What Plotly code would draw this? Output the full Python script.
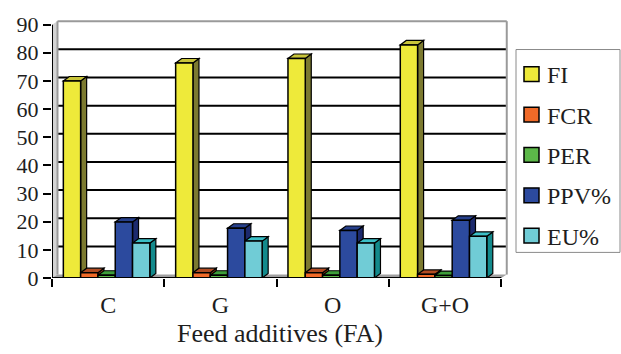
import plotly.graph_objects as go

# Feed additive treatments and measured responses
categories = ["C", "G", "O", "G+O"]
series_names = ["FI", "FCR", "PER", "PPV%", "EU%"]
fi = [70.0, 76.4, 78.0, 82.8]
fcr = [1.9, 1.9, 1.9, 1.3]
per = [1.0, 1.0, 1.0, 0.9]
ppv = [19.9, 17.7, 16.9, 20.5]
eu = [12.4, 13.1, 12.4, 14.8]
y_ticks = list(range(0, 100, 10))

series_values = [fi, fcr, per, ppv, eu]

# face colours: front, right side, top
front_colors = ["#EEEA3A", "#F06A28", "#5CB849", "#2C4A9E", "#70CCD6"]
side_colors = ["#7C7A30", "#8E3A14", "#2F7A2A", "#1C2A6E", "#138A8C"]
top_colors = ["#C8C43A", "#B24C22", "#3E9E3A", "#27408C", "#3BBFC6"]

W, H = 621, 354
ML, MR, MT, MB = 52, 113, 17, 74
PLOT_W, PLOT_H = W - ML - MR, H - MT - MB
X_RANGE = [-0.5, 3.56]
Y_RANGE = [0, 92]
px_per_x = PLOT_W / (X_RANGE[1] - X_RANGE[0])
px_per_y = PLOT_H / (Y_RANGE[1] - Y_RANGE[0])


def paper_x(px):
    return (px - ML) / PLOT_W


def paper_y(py):
    return (H - MB - py) / PLOT_H


# bar layout inside each category slot
pitch = 17.3 / px_per_x
group_start = -0.399
# depth of bars and of the chart walls (pixels converted to data units)
bdx, bdy = 6.0 / px_per_x, 4.5 / px_per_y
wdx, wdy = 5.5 / px_per_x, 3.5 / px_per_y

x_pos = list(range(len(categories)))
FONT = "Liberation Serif, Times New Roman, serif"
TXT = "#1e1e1e"

fig = go.Figure()
for i, (name, vals) in enumerate(zip(series_names, series_values)):
    fig.add_trace(go.Bar(
        x=x_pos, y=vals, name=name, showlegend=False,
        width=pitch, offset=group_start + i * pitch,
        marker=dict(color=front_colors[i], line=dict(color="black", width=1.5)),
        hoverinfo="name+y",
    ))

shapes = []
annotations = []
x_lo, x_hi = -0.5, 3.5
y_top = y_ticks[-1]
# left side wall
shapes.append(dict(type="path", xref="x", yref="y", layer="below",
                   path=f"M{x_lo},0 L{x_lo + wdx},{wdy} L{x_lo + wdx},{y_top + wdy} L{x_lo},{y_top} Z",
                   fillcolor="#d4d4d4", line=dict(width=0)))
# floor
shapes.append(dict(type="path", xref="x", yref="y", layer="below",
                   path=f"M{x_lo},0 L{x_hi},0 L{x_hi + wdx},{wdy} L{x_lo + wdx},{wdy} Z",
                   fillcolor="#a0a0a0", line=dict(width=0)))
# back wall gridlines
for v in y_ticks[1:-1]:
    shapes.append(dict(type="line", xref="x", yref="y", layer="below",
                       x0=x_lo + wdx, x1=x_hi + wdx, y0=v + wdy, y1=v + wdy,
                       line=dict(color="black", width=2)))
# back wall border
for (xa, ya, xb, yb) in [
    (x_lo + wdx, wdy, x_lo + wdx, y_top + wdy),
    (x_lo + wdx, y_top + wdy, x_hi + wdx, y_top + wdy),
    (x_hi + wdx, wdy, x_hi + wdx, y_top + wdy),
]:
    shapes.append(dict(type="line", xref="x", yref="y", layer="below",
                       x0=xa, y0=ya, x1=xb, y1=yb,
                       line=dict(color="#9a9a9a", width=2)))

# side and top faces of every bar, left to right
for c in x_pos:
    for i, vals in enumerate(series_values):
        x0 = c + group_start + i * pitch
        x1 = x0 + pitch
        h = vals[c]
        shapes.append(dict(type="path", xref="x", yref="y", layer="below",
                           path=f"M{x1},0 L{x1 + bdx},{bdy} L{x1 + bdx},{h + bdy} L{x1},{h} Z",
                           fillcolor=side_colors[i], line=dict(color="black", width=1.2)))
        shapes.append(dict(type="path", xref="x", yref="y", layer="below",
                           path=f"M{x0},{h} L{x1},{h} L{x1 + bdx},{h + bdy} L{x0 + bdx},{h + bdy} Z",
                           fillcolor=top_colors[i], line=dict(color="black", width=1.2)))

# front axis lines
shapes.append(dict(type="line", xref="x", yref="y", layer="above",
                   x0=x_lo, x1=x_hi, y0=0, y1=0, line=dict(color="black", width=2)))
shapes.append(dict(type="line", xref="x", yref="y", layer="above",
                   x0=x_lo, x1=x_lo, y0=0, y1=y_top, line=dict(color="black", width=2)))

# legend box with a swatch and label per series
shapes.append(dict(type="rect", xref="paper", yref="paper", layer="above",
                   x0=paper_x(516), x1=paper_x(620), y0=paper_y(254), y1=paper_y(48),
                   fillcolor="white", line=dict(color="#8a8a8a", width=1)))
for i, name in enumerate(series_names):
    cy = 73 + i * 41
    shapes.append(dict(type="rect", xref="paper", yref="paper", layer="above",
                       x0=paper_x(524), x1=paper_x(539), y0=paper_y(cy + 7.5), y1=paper_y(cy - 7.5),
                       fillcolor=front_colors[i], line=dict(color="black", width=1.5)))
    annotations.append(dict(xref="paper", yref="paper", x=paper_x(545), y=paper_y(cy + 1),
                            xanchor="left", yanchor="middle", showarrow=False, text=name,
                            font=dict(family=FONT, size=24, color=TXT)))

fig.update_layout(
    width=W, height=H, autosize=False,
    margin=dict(l=ML, r=MR, t=MT, b=MB, pad=0),
    paper_bgcolor="white", plot_bgcolor="white",
    barmode="overlay",
    shapes=shapes,
    annotations=annotations,
    font=dict(family=FONT, color=TXT),
    showlegend=False,
    xaxis=dict(
        range=X_RANGE, tickmode="array", tickvals=x_pos, ticktext=categories,
        ticks="", showgrid=False, zeroline=False, showline=False,
        tickfont=dict(family=FONT, size=24, color=TXT),
        ticklabelstandoff=10,
        minor=dict(tickmode="array", tickvals=[-0.5, 0.5, 1.5, 2.5, 3.5],
                   ticks="outside", ticklen=8, tickwidth=2, tickcolor="black"),
        title=dict(text="Feed additives (FA)", standoff=6,
                   font=dict(family=FONT, size=26, color=TXT)),
        fixedrange=True,
    ),
    yaxis=dict(
        range=Y_RANGE, tickmode="array", tickvals=y_ticks,
        ticks="outside", ticklen=8, tickwidth=2, tickcolor="black",
        showgrid=False, zeroline=False, showline=False,
        tickfont=dict(family=FONT, size=22, color=TXT),
        fixedrange=True,
    ),
)

fig.write_html("out.html")
